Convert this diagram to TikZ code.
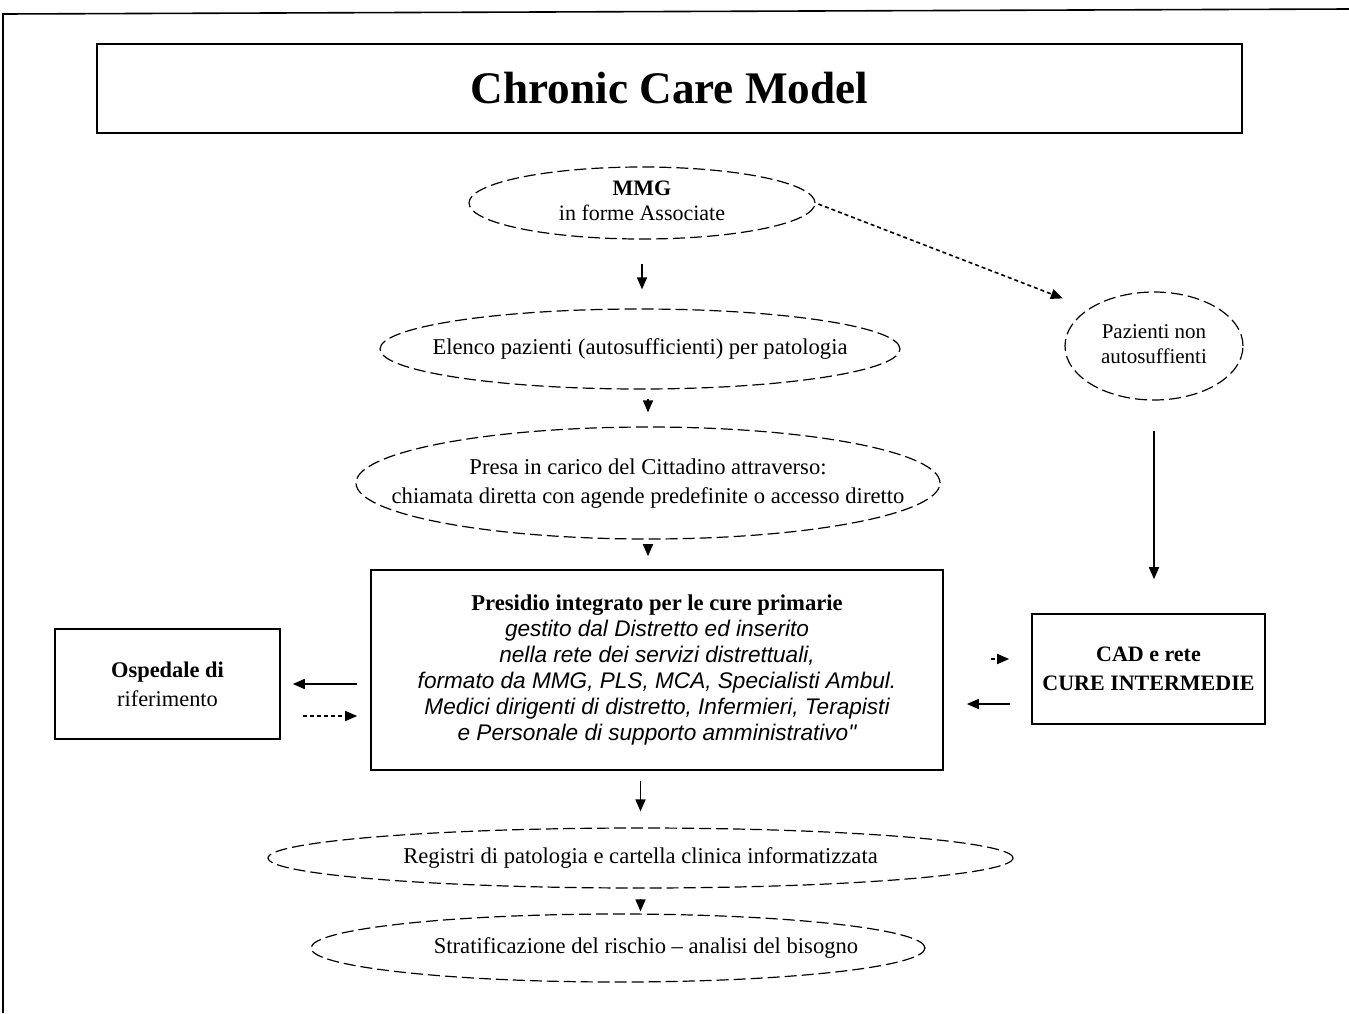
\documentclass[tikz,border=0pt]{standalone}
\usepackage{fontspec}
\setmainfont{Liberation Serif}
\newfontfamily\arialfont{Liberation Sans}
\usetikzlibrary{shapes.geometric,arrows.meta}
\newcommand{\zwtext}[1]{\makebox[0pt]{\begin{tabular}{@{}c@{}}#1\end{tabular}}}
\newcommand{\pit}[1]{{\arialfont\itshape #1}}
\tikzset{
  ell/.style={ellipse, draw, line width=0.6pt, dash pattern=on 6pt off 2.5pt, inner sep=0pt},
  boxnode/.style={rectangle, draw, line width=0.8pt, inner sep=0pt, align=center},
  arr/.style={line width=0.8pt, -{Triangle[length=6pt,width=5pt]}},
  dasharr/.style={arr, dash pattern=on 2pt off 1.5pt},
  txt/.style={font=\fontsize{11.3}{14.5}\selectfont}
}
\begin{document}
\begin{tikzpicture}[x=0.5pt,y=-0.5pt]
\useasboundingbox (0,0) rectangle (1349,1013);
% outer frame
\draw[line width=0.8pt] (3,1013) -- (3,14) -- (1349,9);
% title
\node[boxnode, minimum width=572.5pt, minimum height=44.5pt, font=\fontsize{22.6}{26}\selectfont\bfseries] (title) at (669.5,88.5) {Chronic Care Model};
% ellipses
\node[ell, minimum width=173pt, minimum height=36pt, font=\fontsize{11}{12.5}\selectfont] (mmg) at (642,203) {\zwtext{\textbf{MMG}\\in forme Associate}};
\node[ell, minimum width=260pt, minimum height=40pt, txt] (elenco) at (640,349) {\zwtext{Elenco pazienti (autosufficienti) per patologia}};
\node[ell, minimum width=292pt, minimum height=56pt, txt] (presa) at (648,483) {\zwtext{Presa in carico del Cittadino attraverso:\\chiamata diretta con agende predefinite o accesso diretto}};
\node[ell, minimum width=89pt, minimum height=54pt, font=\fontsize{10.5}{12.5}\selectfont] (paz) at (1154,346) {\zwtext{Pazienti non\\autosuffienti}};
\node[ell, minimum width=372.5pt, minimum height=30pt, txt] (reg) at (640.5,858) {\zwtext{Registri di patologia e cartella clinica informatizzata}};
\node[ell, minimum width=307pt, minimum height=34pt, txt] (strat) at (618,948) {\zwtext{\hspace{28pt}Stratificazione del rischio -- analisi del bisogno}};
% boxes
\node[boxnode, minimum width=286pt, minimum height=100pt, font=\fontsize{11.3}{13}\selectfont] (pres) at (657,670)
  {\textbf{Presidio integrato per le cure primarie}\\
   \pit{gestito dal Distretto ed inserito}\\
   \pit{nella rete dei servizi distrettuali,}\\
   \pit{formato da MMG, PLS, MCA, Specialisti Ambul.}\\
   \pit{Medici dirigenti di distretto, Infermieri, Terapisti}\\
   \pit{e Personale di supporto amministrativo"}};
\node[boxnode, minimum width=112.5pt, minimum height=55pt, font=\fontsize{11.2}{14.5}\selectfont] (osp) at (167.5,684) {\textbf{Ospedale di}\\riferimento};
\node[boxnode, minimum width=116.5pt, minimum height=55pt, font=\fontsize{11}{14.5}\selectfont\bfseries] (cad) at (1148.5,669) {CAD e rete\\CURE INTERMEDIE};
% connectors
\draw[arr, shorten <=12pt, shorten >=9.5pt] (mmg.south) -- (mmg.south |- elenco.north);
\draw[arr, shorten <=4.5pt, shorten >=7pt] (presa.north |- elenco.south) -- (presa.north);
\draw[arr, shorten <=3pt, shorten >=6.5pt] (presa.south) -- (presa.south |- pres.north);
\draw[arr, shorten <=5pt, shorten >=8pt] (reg.north |- pres.south) -- (reg.north);
\draw[arr, shorten <=5pt, shorten >=1pt] (reg.south) -- (reg.south |- strat.north);
\draw[dasharr, shorten <=1.5pt, shorten >=14pt] (mmg.east) -- (paz.150);
\draw[arr, shorten <=15pt, shorten >=17pt] (paz.south) -- (paz.south |- cad.north);
\draw[arr, shorten <=6.5pt, shorten >=6pt] (pres.west |- osp.east) -- (osp.east);
\draw[dasharr, shorten <=11pt, shorten >=6.5pt] ([yshift=-16pt]osp.east) -- ([yshift=-16pt]osp.east -| pres.west);
\draw[dasharr, shorten <=23.5pt, shorten >=11pt] ([yshift=5pt]cad.west -| pres.east) -- ([yshift=5pt]cad.west);
\draw[arr, shorten <=10.5pt, shorten >=11.5pt] ([yshift=-17.5pt]cad.west) -- ([yshift=-17.5pt]cad.west -| pres.east);
\end{tikzpicture}
\end{document}
